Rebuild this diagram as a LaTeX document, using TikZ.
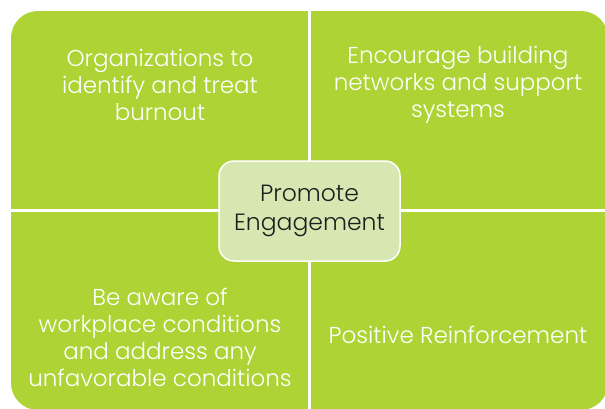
\documentclass[tikz,border=0pt]{standalone}
\usepackage{fontspec}
\setmainfont{Poppins Light}
\definecolor{lime}{RGB}{173,212,52}
\definecolor{palegreen}{RGB}{215,231,177}
\definecolor{darktext}{RGB}{30,30,30}
\tikzset{
  x=1pt,y=-1pt,
  quadtext/.style={text=white,align=center,font=\fontsize{23}{27}\selectfont,inner sep=0pt},
  centerbox/.style={draw=white,line width=1.5pt,fill=palegreen,rounded corners=15pt,
     minimum width=181pt,minimum height=100pt,align=center,text=darktext,
     font=\fontsize{23.5}{28.5}\selectfont,inner sep=0pt},
  divider/.style={white,line width=2.5pt}
}
\begin{document}
\begin{tikzpicture}
\useasboundingbox (0,0) rectangle (605,408);
\clip (0,0) rectangle (605,408);
\fill[lime,rounded corners=27pt] (11,11) rectangle (608,410);
\coordinate (vt) at (309.5,11);
\coordinate (vb) at (309.5,410);
\coordinate (hl) at (11,210.5);
\coordinate (hr) at (608,210.5);
\draw[divider] (vt) -- (vb);
\draw[divider] (hl) -- (hr);
\node[centerbox] (c) at (309.5,211) {Promote\\Engagement};
\node[quadtext] (tl) at (160,85) {Organizations to\\identify and treat\\burnout};
\node[quadtext] (tr) at (458,85) {Encourage building\\networks and support\\systems};
\node[quadtext] (bl) at (160,337) {Be aware of\\workplace conditions\\and address any\\unfavorable conditions};
\node[quadtext] (br) at (458,335) {Positive Reinforcement};
\end{tikzpicture}
\end{document}
